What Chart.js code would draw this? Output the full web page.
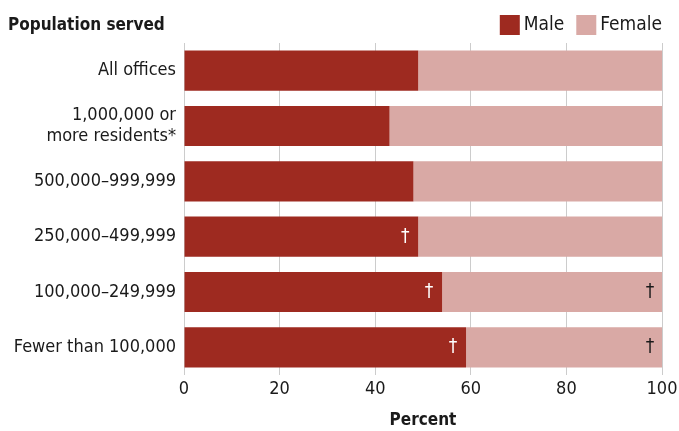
<!DOCTYPE html>
<html>
<head>
<meta charset="utf-8">
<script src="https://cdn.jsdelivr.net/npm/chart.js@4/dist/chart.umd.min.js"></script>
<style>
  html, body { margin: 0; padding: 0; background: #fff; }
  #wrap { position: relative; width: 679px; height: 431px; }
</style>
</head>
<body>
<div id="wrap"><canvas id="genderChart" width="679" height="431"></canvas></div>
<script>
// Data
const categories = ['All offices', ['1,000,000 or', 'more residents*'], '500,000\u2013999,999',
    '250,000\u2013499,999', '100,000\u2013249,999', 'Fewer than 100,000'];
const maleValues = [49, 43, 48, 49, 54, 59];
const femaleValues = [51, 57, 52, 51, 46, 41];
const maleFlag = [false, false, false, true, true, true];
const femaleFlag = [false, false, false, false, true, true];
const xTicks = [0, 20, 40, 60, 80, 100];

const FONT = "'DejaVu Sans Condensed', 'DejaVu Sans', sans-serif";
const INK = '#1a1a1a';

// title, legend and dagger marks
const extras = {
    id: 'extras',
    afterDatasetsDraw(chart) {
        const ctx = chart.ctx;
        const x = chart.scales.x, y = chart.scales.y;
        ctx.save();
        ctx.font = '19px ' + FONT;
        ctx.textAlign = 'center';
        ctx.textBaseline = 'middle';
        categories.forEach((c, i) => {
            const cy = y.getPixelForValue(i);
            if (maleFlag[i]) {
                ctx.fillStyle = '#ffffff';
                ctx.fillText('\u2020', x.getPixelForValue(maleValues[i]) - 13, cy);
            }
            if (femaleFlag[i]) {
                ctx.fillStyle = INK;
                ctx.fillText('\u2020', x.getPixelForValue(maleValues[i] + femaleValues[i]) - 12, cy);
            }
        });

        // title
        ctx.font = 'bold 17px ' + FONT;
        ctx.textAlign = 'left';
        ctx.fillStyle = INK;
        ctx.fillText('Population served', 8, 26);

        // legend, right aligned to the plot
        ctx.font = '19px ' + FONT;
        let lx = 662;
        chart.data.datasets.slice().reverse().forEach(ds => {
            const w = ctx.measureText(ds.label).width;
            lx -= w;
            ctx.fillStyle = INK;
            ctx.fillText(ds.label, lx, 25);
            lx -= 24;
            ctx.fillStyle = ds.backgroundColor;
            ctx.fillRect(lx, 15, 20, 20);
            lx -= 12;
        });
        ctx.restore();
    }
};

new Chart(document.getElementById('genderChart'), {
    type: 'bar',
    data: {
        labels: categories,
        datasets: [{
            label: 'Male',
            data: maleValues,
            backgroundColor: '#9E2A20',
            barPercentage: 0.725,
            categoryPercentage: 1
        }, {
            label: 'Female',
            data: femaleValues,
            backgroundColor: '#D9A9A5',
            barPercentage: 0.725,
            categoryPercentage: 1
        }]
    },
    options: {
        indexAxis: 'y',
        responsive: false,
        animation: false,
        layout: { padding: { left: 0, right: 17, top: 43, bottom: 0 } },
        plugins: {
            tooltip: { enabled: false },
            legend: { display: false }
        },
        scales: {
            x: {
                stacked: true,
                min: 0,
                max: 100,
                afterBuildTicks: s => { s.ticks = xTicks.map(v => ({ value: v })); },
                afterFit: s => { s.paddingRight = 0; },
                grid: { color: '#cccccc', drawTicks: false },
                border: { display: false },
                ticks: { color: INK, font: { family: FONT, size: 18 }, padding: 4 },
                title: {
                    display: true,
                    text: 'Percent',
                    color: INK,
                    font: { family: FONT, size: 17, weight: 'bold' },
                    padding: { top: 6, bottom: 0 }
                }
            },
            y: {
                stacked: true,
                grid: { display: false },
                border: { display: false },
                ticks: { color: INK, font: { family: FONT, size: 18, lineHeight: 1.15 }, padding: 0 },
                afterFit: s => { s.width = 184; }
            }
        }
    },
    plugins: [extras]
});
</script>
</body>
</html>
